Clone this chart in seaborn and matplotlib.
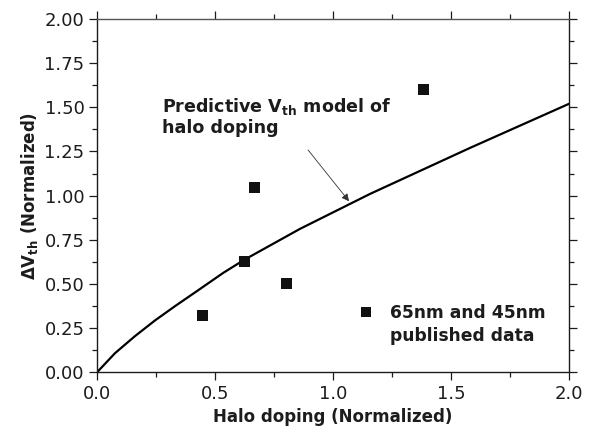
import matplotlib
matplotlib.use("Agg")
import matplotlib.pyplot as plt
from matplotlib.lines import Line2D
from matplotlib.ticker import MultipleLocator, FormatStrFormatter
import seaborn as sns

# Predictive threshold-voltage shift model (normalized)
x_model = [0.0, 0.076, 0.161, 0.246, 0.331, 0.415, 0.535, 0.624, 0.860, 1.157, 1.580, 2.0]
y_model = [0.0, 0.108, 0.205, 0.294, 0.375, 0.452, 0.563, 0.637, 0.812, 1.010, 1.270, 1.520]

# 65nm / 45nm published data points
x_pub = [0.448, 0.624, 0.669, 0.804, 1.382]
y_pub = [0.320, 0.626, 1.048, 0.504, 1.602]

x_ticks = [0.0, 0.5, 1.0, 1.5, 2.0]
y_ticks = [0.0, 0.25, 0.5, 0.75, 1.0, 1.25, 1.5, 1.75, 2.0]

model_label = "Predictive V$_{\\mathbf{th}}$ model of\nhalo doping"
data_label_1 = "65nm and 45nm"
data_label_2 = "published data"
x_title = "Halo doping (Normalized)"
y_title = "ΔV$_{\\mathbf{th}}$ (Normalized)"

sns.set_theme(style="ticks")
plt.rcParams["font.family"] = ["DejaVu Sans"]
plt.rcParams["mathtext.fontset"] = "dejavusans"

INK = "#1c1c1c"
fig = plt.figure(figsize=(5.92, 4.38), dpi=100)
ax = fig.add_axes([0.1639, 0.150, 0.7973, 0.8066])

sns.lineplot(x=x_model, y=y_model, ax=ax, color="black", linewidth=1.6,
             sort=False, estimator=None)
sns.scatterplot(x=x_pub, y=y_pub, ax=ax, marker="s", s=64, color="#111111",
                edgecolor="none", linewidth=0, legend=False, zorder=3)

ax.set_xlim(0, 2)
ax.set_ylim(0, 2)
ax.set_xticks(x_ticks)
ax.set_yticks(y_ticks)
ax.xaxis.set_minor_locator(MultipleLocator(0.25))
ax.yaxis.set_minor_locator(MultipleLocator(0.125))
ax.xaxis.set_major_formatter(FormatStrFormatter("%.1f"))
ax.yaxis.set_major_formatter(FormatStrFormatter("%.2f"))
ax.tick_params(which="both", direction="out", top=True, right=True,
               color=INK, width=0.9, labelsize=13, labelcolor=INK)
ax.tick_params(which="major", length=6, pad=3)
ax.tick_params(which="minor", length=3.5)
for side, sp in ax.spines.items():
    sp.set_visible(True)
    sp.set_color(INK)
    sp.set_linewidth(1.0)
ax.spines["top"].set_color("#555555")

ax.set_xlabel(x_title, fontsize=12, fontweight="bold", color=INK, labelpad=4)
ax.set_ylabel(y_title, fontsize=12, fontweight="bold", color=INK, labelpad=3)

# model callout
ax.text(0.274, 1.565, model_label, fontsize=12.6, fontweight="bold",
        color=INK, ha="left", va="top", linespacing=1.12)
ax.annotate("", xy=(1.068, 0.968), xytext=(0.894, 1.259),
            arrowprops=dict(arrowstyle="-|>", color="#333333", lw=0.6,
                            mutation_scale=11, shrinkA=0, shrinkB=0))

# data legend
handle = Line2D([], [], marker="s", linestyle="none", color="#111111",
                markersize=7.0, markeredgewidth=0)
leg = ax.legend([handle], [data_label_1], loc="center left",
                bbox_to_anchor=(0.556, 0.168), frameon=False,
                borderpad=0, borderaxespad=0, handlelength=0.8,
                handletextpad=1.0, prop=dict(size=12.3, weight="bold"))
for t in leg.get_texts():
    t.set_color(INK)
fig.canvas.draw()
ax.annotate(data_label_2, xy=(0, 0), xycoords=leg.get_texts()[0],
            xytext=(0, -16.5), textcoords="offset points", ha="left", va="bottom",
            fontsize=12.3, fontweight="bold", color=INK, zorder=6)

fig.savefig("out.png", dpi=100, facecolor="white")
